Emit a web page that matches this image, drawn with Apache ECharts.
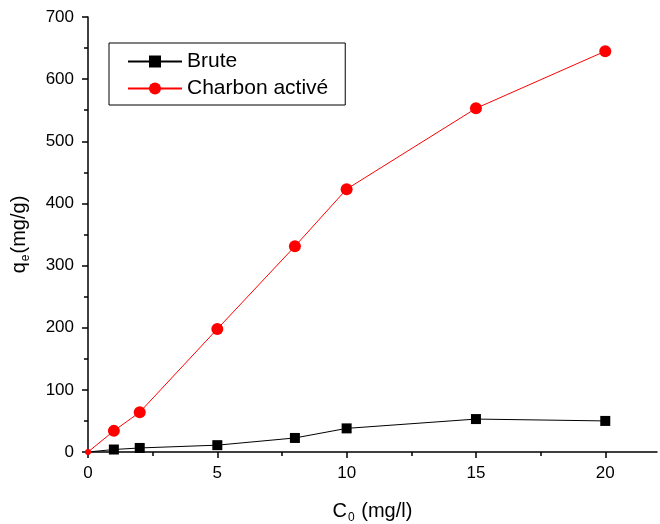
<!DOCTYPE html>
<html>
<head>
<meta charset="utf-8">
<script src="https://cdn.jsdelivr.net/npm/echarts@6/dist/echarts.min.js"></script>
<style>
  html, body { margin: 0; padding: 0; background: #fff; }
  #chart { width: 660px; height: 524px; }
</style>
</head>
<body>
<div id="chart"></div>
<script>
  // concentrations initiales C0 (mg/l)
  var c0 = [0, 1, 2, 5, 8, 10, 15, 20];
  // qe (mg/g)
  var brute = [0, 4, 6.5, 11, 22.6, 38, 53, 50];
  var charbon = [0, 34, 64, 198, 331, 423, 553, 645];
  var xTicks = [0, 5, 10, 15, 20];
  var xMinorTicks = [2.5, 7.5, 12.5, 17.5];

  // le point à l'origine est à moitié caché par les axes
  function pairs(xs, ys, originSize) {
    return xs.map(function (x, i) {
      var item = { value: [x, ys[i]] };
      if (x === 0 && ys[i] === 0) item.symbolSize = originSize;
      return item;
    });
  }

  var font = 'Liberation Sans, Arial, sans-serif';
  var myChart = echarts.init(document.getElementById('chart'));
  myChart.setOption({
    animation: false,
    backgroundColor: '#fff',
    textStyle: { fontFamily: font },
    grid: { left: 88, right: 3, top: 17, bottom: 72, outerBoundsMode: 'none' },
    legend: {
      orient: 'vertical',
      left: 109,
      top: 43,
      padding: [8, 17, 6, 18],
      itemGap: 6,
      itemWidth: 54,
      itemHeight: 15,
      borderColor: '#000',
      borderWidth: 1,
      textStyle: { fontSize: 21, lineHeight: 20, color: '#000', fontFamily: font },
      data: ['Brute', 'Charbon activé']
    },
    xAxis: [{
      type: 'value',
      min: 0,
      max: 22,
      interval: 5,
      name: '{a|C}{s|0}{a| (mg/l)}',
      nameLocation: 'middle',
      nameGap: 47,
      nameTextStyle: {
        rich: {
          a: { fontSize: 20, color: '#000', fontFamily: font },
          s: { fontSize: 12, color: '#000', fontFamily: font, padding: [13, 1, 0, 1] }
        }
      },
      axisLine: { lineStyle: { color: '#000', width: 1.5 } },
      axisTick: { inside: false, length: 6, lineStyle: { color: '#000', width: 1.5 }, customValues: xTicks },
      axisLabel: { fontSize: 17, color: '#000', margin: 13, customValues: xTicks },
      splitLine: { show: false }
    }, {
      type: 'value',
      position: 'bottom',
      min: 0,
      max: 22,
      axisLine: { show: false },
      axisTick: { inside: false, length: 4, lineStyle: { color: '#000', width: 1.5 }, customValues: xMinorTicks },
      axisLabel: { show: false },
      splitLine: { show: false }
    }],
    yAxis: {
      type: 'value',
      min: 0,
      max: 700,
      interval: 100,
      name: '{a|q}{s|e}{a|(mg/g)}',
      nameLocation: 'middle',
      nameGap: 56,
      nameRotate: 90,
      nameTextStyle: {
        rich: {
          a: { fontSize: 20, color: '#000', fontFamily: font },
          s: { fontSize: 12, color: '#000', fontFamily: font, padding: [13, 1, 0, 1] }
        }
      },
      axisLine: { show: true, lineStyle: { color: '#000', width: 1.5 } },
      axisTick: { show: true, inside: false, length: 6, lineStyle: { color: '#000', width: 1.5 } },
      minorTick: { show: true, splitNumber: 2, length: 4, lineStyle: { color: '#000', width: 1.5 } },
      axisLabel: { fontSize: 17, color: '#000', margin: 14 },
      splitLine: { show: false }
    },
    series: [{
      name: 'Brute',
      type: 'line',
      data: pairs(c0, brute, 0),
      symbol: 'rect',
      symbolSize: 10,
      lineStyle: { color: '#000', width: 1 },
      itemStyle: { color: '#000' },
      z: 2
    }, {
      name: 'Charbon activé',
      type: 'line',
      data: pairs(c0, charbon, 6),
      symbol: 'circle',
      symbolSize: 12,
      lineStyle: { color: '#ff0000', width: 1 },
      itemStyle: { color: '#ff0000' },
      z: 3
    }]
  });
</script>
</body>
</html>
